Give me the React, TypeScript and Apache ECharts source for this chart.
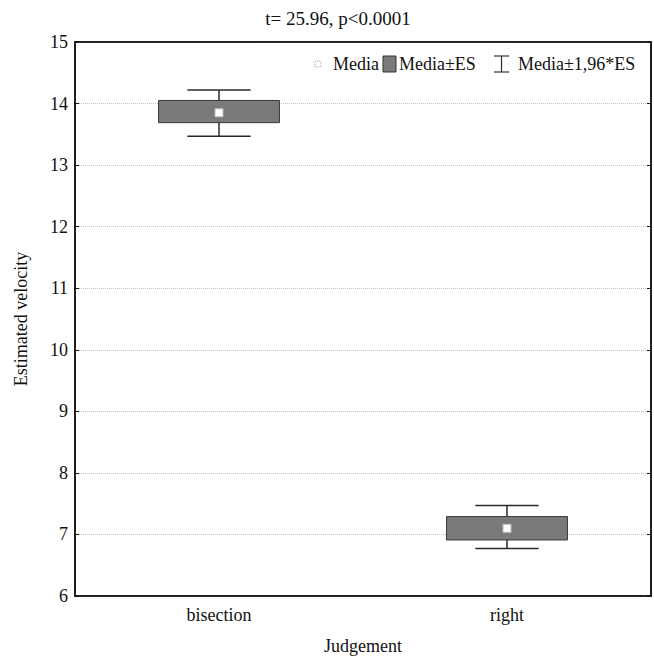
import React, { useEffect, useRef } from "react";
import * as echarts from "echarts";

const categories = ["bisection", "right"];
const means = [13.85, 7.1];
const esLow = [13.69, 6.91];
const esHigh = [14.05, 7.29];
const ciLow = [13.47, 6.77];
const ciHigh = [14.22, 7.47];
const yTicks = [6, 7, 8, 9, 10, 11, 12, 13, 14, 15];
const legendLabels = ["Media", "Media±ES", "Media±1,96*ES"];

const FONT = "Liberation Serif";

export default function App() {
  const ref = useRef<HTMLDivElement>(null);
  useEffect(() => {
    document.body.style.margin = "0";
    if (!ref.current) return;
    const chart = echarts.init(ref.current, undefined, { renderer: "svg" });
    const data = categories.map((_, i) => [i, ciLow[i], esLow[i], means[i], esHigh[i], ciHigh[i]]);
    const ly = 64;
    const option: any = {
      animation: false,
      backgroundColor: "#fff",
      textStyle: { fontFamily: FONT, color: "#111" },
      title: {
        text: "t= 25.96, p<0.0001",
        left: 333,
        textAlign: "center",
        top: 4,
        textStyle: { fontFamily: FONT, fontSize: 19, fontWeight: "normal", color: "#111" },
      },
      grid: {
        left: 75, right: 3, top: 42, bottom: 62,
        show: true, borderColor: "#111", borderWidth: 1.5, backgroundColor: "transparent",
      },
      xAxis: [
        {
          type: "category",
          data: categories,
          position: "bottom",
          name: "Judgement",
          nameLocation: "middle",
          nameGap: 41,
          nameTextStyle: { fontFamily: FONT, fontSize: 18, color: "#111" },
          axisLine: { lineStyle: { color: "#111", width: 1.5 } },
          axisTick: { inside: true, alignWithLabel: true, length: 4, lineStyle: { color: "#111" } },
          axisLabel: { fontFamily: FONT, fontSize: 18, color: "#111", margin: 10 },
          splitLine: { show: false },
        },
        {
          type: "category",
          data: categories,
          position: "top",
          axisLine: { lineStyle: { color: "#111", width: 1.5 } },
          axisTick: { inside: true, alignWithLabel: true, length: 4, lineStyle: { color: "#111" } },
          axisLabel: { show: false },
          splitLine: { show: false },
        },
      ],
      yAxis: [
        {
          type: "value",
          min: yTicks[0],
          max: yTicks[yTicks.length - 1],
          interval: 1,
          name: "Estimated velocity",
          nameLocation: "middle",
          nameGap: 45,
          nameTextStyle: { fontFamily: FONT, fontSize: 18, color: "#111" },
          axisLine: { show: true, lineStyle: { color: "#111", width: 1.5 } },
          axisTick: { show: true, inside: true, length: 4, lineStyle: { color: "#111" } },
          axisLabel: { fontFamily: FONT, fontSize: 18, color: "#111", margin: 7 },
          splitLine: { show: true, lineStyle: { color: "#c4c4c4", type: "dotted", width: 1 } },
        },
        {
          type: "value",
          position: "right",
          min: yTicks[0],
          max: yTicks[yTicks.length - 1],
          interval: 1,
          axisLine: { show: true, lineStyle: { color: "#111", width: 1.5 } },
          axisTick: { show: true, inside: true, length: 4, lineStyle: { color: "#111" } },
          axisLabel: { show: false },
          splitLine: { show: false },
        },
      ],
      series: [
        {
          type: "custom",
          name: "Media",
          xAxisIndex: 0,
          yAxisIndex: 0,
          data,
          renderItem: (params: any, api: any) => {
            const idx = api.value(0);
            const band = api.size([1, 0])[0];
            const boxW = band * 0.42;
            const capW = band * 0.22;
            const pLow = api.coord([idx, api.value(1)]);
            const pBoxLo = api.coord([idx, api.value(2)]);
            const pMean = api.coord([idx, api.value(3)]);
            const pBoxHi = api.coord([idx, api.value(4)]);
            const pHigh = api.coord([idx, api.value(5)]);
            const cx = pMean[0];
            const stroke = { stroke: "#2a2a2a", lineWidth: 1.5 };
            return {
              type: "group",
              children: [
                { type: "line", shape: { x1: cx, y1: pHigh[1], x2: cx, y2: pLow[1] }, style: stroke },
                { type: "line", shape: { x1: cx - capW / 2, y1: pHigh[1], x2: cx + capW / 2, y2: pHigh[1] }, style: stroke },
                { type: "line", shape: { x1: cx - capW / 2, y1: pLow[1], x2: cx + capW / 2, y2: pLow[1] }, style: stroke },
                {
                  type: "rect",
                  shape: { x: cx - boxW / 2, y: pBoxHi[1], width: boxW, height: pBoxLo[1] - pBoxHi[1] },
                  style: { fill: "#7a7a7a", stroke: "#3a3a3a", lineWidth: 1 },
                },
                {
                  type: "rect",
                  shape: { x: cx - 4, y: pMean[1] - 4, width: 8, height: 8 },
                  style: { fill: "#ffffff", stroke: "#bbbbbb", lineWidth: 1 },
                },
              ],
            };
          },
        },
      ],
      graphic: [
        { type: "rect", shape: { x: 315, y: ly - 3, width: 6, height: 6 }, style: { fill: "#fff", stroke: "#aaa", lineWidth: 1, lineDash: [1, 1] } },
        { type: "text", x: 333, y: ly, style: { text: legendLabels[0], fontFamily: FONT, fontSize: 18, fill: "#111", verticalAlign: "middle" } },
        { type: "rect", shape: { x: 383, y: ly - 8, width: 13, height: 16 }, style: { fill: "#7a7a7a", stroke: "#333", lineWidth: 1 } },
        { type: "text", x: 399, y: ly, style: { text: legendLabels[1], fontFamily: FONT, fontSize: 18, fill: "#111", verticalAlign: "middle" } },
        { type: "line", shape: { x1: 494, y1: ly - 8, x2: 509, y2: ly - 8 }, style: { stroke: "#333", lineWidth: 1.2 } },
        { type: "line", shape: { x1: 494, y1: ly + 8, x2: 509, y2: ly + 8 }, style: { stroke: "#333", lineWidth: 1.2 } },
        { type: "line", shape: { x1: 501.5, y1: ly - 8, x2: 501.5, y2: ly + 8 }, style: { stroke: "#333", lineWidth: 1.2 } },
        { type: "text", x: 518, y: ly, style: { text: legendLabels[2], fontFamily: FONT, fontSize: 18, fill: "#111", verticalAlign: "middle" } },
      ],
    };
    chart.setOption(option);
    return () => chart.dispose();
  }, []);
  return <div ref={ref} style={{ width: 654, height: 660 }} />;
}
